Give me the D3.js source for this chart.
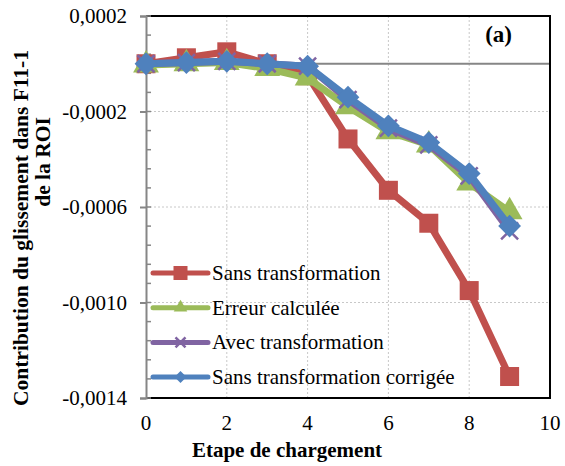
<!DOCTYPE html>
<html>
<head>
<meta charset="utf-8">
<script src="https://cdn.jsdelivr.net/npm/d3@7"></script>
<style>
  body { margin: 0; background: #fff; }
</style>
</head>
<body>
<div id="chart"></div>
<script>
// load steps
const etapes = [0, 1, 2, 3, 4, 5, 6, 7, 8, 9];
const sansTransformation = [0, 0.000025, 0.00005, 0, -0.00005, -0.000315, -0.00053, -0.000668, -0.00095, -0.00131];
const erreurCalculee = [-0.000005, 0, 0.000005, -0.00002, -0.00006, -0.00018, -0.000285, -0.00034, -0.0005, -0.00062];
const avecTransformation = [0, 0.000005, 0.00001, 0, -0.00001, -0.00015, -0.00027, -0.00034, -0.00047, -0.0007];
const sansTransfoCorrigee = [0, 0.000005, 0.00001, 0, -0.00001, -0.00014, -0.00026, -0.00033, -0.00046, -0.00068];
const seriesNames = ["Sans transformation", "Erreur calculée", "Avec transformation", "Sans transformation corrigée"];
const yTicks = [0.0002, -0.0002, -0.0006, -0.0010, -0.0014];
const xTicks = [0, 2, 4, 6, 8, 10];

const series = [
  { name: seriesNames[0], values: sansTransformation, color: "#C0504D", marker: "square" },
  { name: seriesNames[1], values: erreurCalculee, color: "#9BBB59", marker: "triangle" },
  { name: seriesNames[2], values: avecTransformation, color: "#8064A2", marker: "x" },
  { name: seriesNames[3], values: sansTransfoCorrigee, color: "#4F81BD", marker: "diamond" }
];

var width = 565, height = 466;
var margin = { top: 16, right: 15, bottom: 68, left: 146 };
var innerW = width - margin.left - margin.right,
    innerH = height - margin.top - margin.bottom;
var serif = '"Liberation Serif", "Times New Roman", serif';

var svg = d3.select("#chart").append("svg")
  .attr("width", width).attr("height", height)
  .style("font-family", serif);

var g = svg.append("g")
  .attr("transform", "translate(" + margin.left + "," + margin.top + ")");

var x = d3.scaleLinear().domain([0, 10]).range([0, innerW]);
var y = d3.scaleLinear().domain([-0.0014, 0.0002]).range([innerH, 0]);

function fmt(v) {
  if (Math.abs(v) < 1e-12) return "0";
  return d3.format(".4f")(v).replace(".", ",").replace("−", "-");
}

// gridlines
g.selectAll(".hgrid").data(yTicks.slice(1, -1)).enter().append("line")
  .attr("x1", 0).attr("x2", innerW)
  .attr("y1", d => y(d)).attr("y2", d => y(d))
  .style("stroke", "#c8c8c8").style("stroke-dasharray", "2,2").style("stroke-width", 1);
g.selectAll(".vgrid").data(xTicks.slice(1, -1)).enter().append("line")
  .attr("y1", 0).attr("y2", innerH)
  .attr("x1", d => x(d)).attr("x2", d => x(d))
  .style("stroke", "#c8c8c8").style("stroke-dasharray", "2,2").style("stroke-width", 1);

// zero line (horizontal axis crossing)
g.append("line").attr("x1", 0).attr("x2", innerW)
  .attr("y1", y(0)).attr("y2", y(0))
  .style("stroke", "#868686").style("stroke-width", 2);

// frame
g.append("path")
  .attr("d", "M0,0H" + innerW + "V" + innerH + "H0")
  .style("fill", "none").style("stroke", "#000").style("stroke-width", 2);

// left axis
var yAxis = d3.axisLeft(y).tickValues(yTicks).tickSize(6).tickFormat(fmt);
var ya = g.append("g").call(yAxis).attr("font-family", null);
ya.select(".domain").style("stroke", "#868686").style("stroke-width", 2);
ya.selectAll(".tick line").style("stroke", "#868686").style("stroke-width", 2);
ya.selectAll(".tick text").style("font-size", "21px").style("font-family", serif)
  .attr("x", -19).attr("dy", "0.33em").attr("fill", "#000");
// minor ticks (inside)
var minor = d3.range(0.0002, -0.00141, -0.00008);
g.selectAll(".minor").data(minor).enter().append("line")
  .attr("x1", 0).attr("x2", 5)
  .attr("y1", d => y(d)).attr("y2", d => y(d))
  .style("stroke", "#868686").style("stroke-width", 1.5);

// x labels
g.selectAll(".xlab").data(xTicks).enter().append("text")
  .attr("x", d => x(d)).attr("y", innerH + 32)
  .style("text-anchor", "middle").style("font-size", "21px").style("font-family", serif)
  .text(d => d);

// lines
var line = d3.line().x((d, i) => x(etapes[i])).y(d => y(d));

function drawMarker(sel, type, color, s) {
  if (type === "square") {
    sel.append("rect").attr("x", -s / 2).attr("y", -s / 2).attr("width", s).attr("height", s)
      .style("fill", color);
  } else if (type === "triangle") {
    sel.append("path").attr("d", d3.symbol(d3.symbolTriangle, s * s * 0.8)())
      .style("fill", color);
  } else if (type === "x") {
    var h = s / 2;
    sel.append("path").attr("d", "M" + -h + "," + -h + "L" + h + "," + h + "M" + -h + "," + h + "L" + h + "," + -h)
      .style("stroke", color).style("stroke-width", 2.5);
  } else if (type === "diamond") {
    var h2 = s * 0.6;
    sel.append("path").attr("d", "M0," + -h2 + "L" + h2 + ",0L0," + h2 + "L" + -h2 + ",0Z")
      .style("fill", color);
  }
}

series.forEach(function (s) {
  g.append("path").datum(s.values)
    .attr("d", line)
    .style("fill", "none").style("stroke", s.color)
    .style("stroke-width", 7).style("stroke-linejoin", "round");
  var m = g.selectAll(null).data(s.values).enter().append("g")
    .attr("transform", (d, i) => "translate(" + x(etapes[i]) + "," + y(d) + ")");
  drawMarker(m, s.marker, s.color, s.marker === "x" ? 17 : 19);
});

// legend
var leg = g.append("g").attr("transform", "translate(7," + (273 - margin.top) + ")");
series.forEach(function (s, i) {
  var row = leg.append("g").attr("transform", "translate(0," + (i * 34.7) + ")");
  row.append("line").attr("x1", 0).attr("x2", 55).attr("y1", 0).attr("y2", 0)
    .style("stroke", s.color).style("stroke-width", 5).style("stroke-linecap", "round");
  var mk = row.append("g").attr("transform", "translate(27.5,0)");
  drawMarker(mk, s.marker, s.color, s.marker === "square" ? 14 : 10);
  row.append("text").attr("x", 59).attr("y", 7)
    .style("font-size", "21px").style("font-family", serif).text(s.name);
});

// panel label
g.append("text").attr("x", innerW - 38).attr("y", 26)
  .style("text-anchor", "end").style("font-size", "23px").style("font-weight", "bold")
  .style("font-family", serif)
  .text("(a)");

// axis titles
svg.append("text").attr("x", 287).attr("y", 457)
  .style("text-anchor", "middle").style("font-size", "21px").style("font-weight", "bold")
  .style("font-family", serif)
  .text("Etape de chargement");

svg.append("text")
  .attr("transform", "translate(28,228) rotate(-90)")
  .style("text-anchor", "middle").style("font-size", "21.5px").style("font-weight", "bold")
  .style("font-family", serif)
  .text("Contribution du glissement dans F11-1");
svg.append("text")
  .attr("transform", "translate(50,162) rotate(-90)")
  .style("text-anchor", "middle").style("font-size", "21.5px").style("font-weight", "bold")
  .style("font-family", serif)
  .text("de la ROI");
</script>
</body>
</html>
